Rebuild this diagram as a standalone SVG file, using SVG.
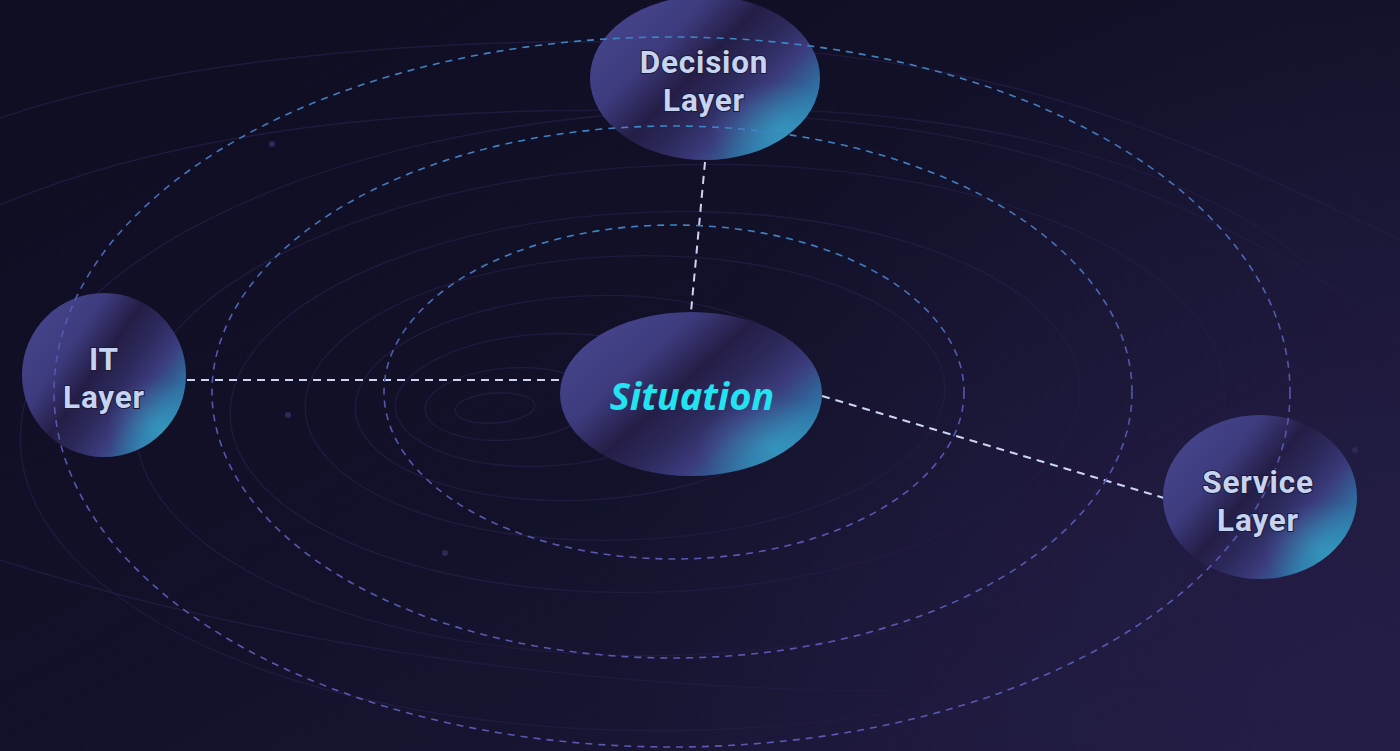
<svg xmlns="http://www.w3.org/2000/svg" width="1400" height="751" viewBox="0 0 1400 751">
<defs>
  <linearGradient id="bg" x1="0" y1="0" x2="1" y2="1">
    <stop offset="0" stop-color="#0e0d21"/>
    <stop offset="0.5" stop-color="#121129"/>
    <stop offset="1" stop-color="#1f1a3e"/>
  </linearGradient>
  <radialGradient id="bgGlow" cx="1350" cy="700" r="750" gradientUnits="userSpaceOnUse">
    <stop offset="0" stop-color="#261f4a" stop-opacity="0.8"/>
    <stop offset="1" stop-color="#261f4a" stop-opacity="0"/>
  </radialGradient>
  <linearGradient id="orbit" x1="0" y1="0" x2="0" y2="1">
    <stop offset="0" stop-color="#3c86c6"/>
    <stop offset="0.45" stop-color="#5257ad"/>
    <stop offset="1" stop-color="#5759b4"/>
  </linearGradient>
  <linearGradient id="node" x1="0" y1="0.15" x2="1" y2="0.85">
    <stop offset="0" stop-color="#47478e"/>
    <stop offset="0.28" stop-color="#3d3b7e"/>
    <stop offset="0.45" stop-color="#241e46"/>
    <stop offset="0.58" stop-color="#2c295b"/>
    <stop offset="0.7" stop-color="#3b3a7b"/>
    <stop offset="0.85" stop-color="#2f6fa2"/>
    <stop offset="1" stop-color="#2f88b3"/>
  </linearGradient>
  <radialGradient id="nodeGlow" cx="0.82" cy="0.82" r="0.3">
    <stop offset="0" stop-color="#3fd0e6" stop-opacity="0.35"/>
    <stop offset="1" stop-color="#3fd0e6" stop-opacity="0"/>
  </radialGradient>
  <style>
    .orbit{fill:none;stroke:url(#orbit);stroke-width:1.6;stroke-dasharray:7 6;}
    .link{fill:none;stroke:#cbd4f2;stroke-width:2;stroke-dasharray:8 6;}
    .swirl{fill:none;stroke:#221c42;stroke-width:1.4;opacity:0.85;}
    .dot{fill:#2a2a58;}
    .body{fill:url(#node);}
    .glow{fill:url(#nodeGlow);}
    .lbl{font-family:Roboto,"Noto Sans","Liberation Sans",sans-serif;font-weight:700;font-size:31.5px;letter-spacing:0.8px;fill:#c6d4f1;text-anchor:middle;paint-order:stroke;stroke:#1b1a3c;stroke-width:2;}
    .sit{font-family:"Noto Sans","Open Sans",sans-serif;font-style:italic;font-size:38px;letter-spacing:0;fill:#22e3ef;stroke:none;}
  </style>
</defs>

<rect width="1400" height="751" fill="url(#bg)"/>
<rect width="1400" height="751" fill="url(#bgGlow)"/>

<g id="background-swirl">
  <ellipse class="swirl" cx="495" cy="408" rx="40" ry="15" transform="rotate(-4 495 408)"/>
  <ellipse class="swirl" cx="510" cy="404" rx="85" ry="36" transform="rotate(-4 510 404)"/>
  <ellipse class="swirl" cx="545" cy="400" rx="150" ry="66" transform="rotate(-3 545 400)"/>
  <ellipse class="swirl" cx="585" cy="398" rx="230" ry="102" transform="rotate(-3 585 398)"/>
  <ellipse class="swirl" cx="625" cy="398" rx="320" ry="142" transform="rotate(-2 625 398)"/>
  <ellipse class="swirl" cx="655" cy="402" rx="425" ry="190" transform="rotate(-2 655 402)"/>
  <ellipse class="swirl" cx="680" cy="410" rx="545" ry="245" transform="rotate(-2 680 410)"/>
  <ellipse class="swirl" cx="700" cy="420" rx="680" ry="310" transform="rotate(-2 700 420)"/>
  <path class="swirl" d="M0 118 C200 50 520 30 760 48 S1150 120 1400 240"/>
  <path class="swirl" d="M0 205 C200 120 480 100 760 115 S1200 200 1400 330"/>
  <path class="swirl" d="M0 560 C250 640 600 700 1000 690 S1300 620 1400 560"/>
  <circle class="dot" cx="272" cy="144" r="3"/>
  <circle class="dot" cx="288" cy="415" r="3"/>
  <circle class="dot" cx="445" cy="553" r="3"/>
  <circle class="dot" cx="1355" cy="450" r="3"/>
</g>

<g id="connectors">
  <line class="link" x1="705" y1="162" x2="691" y2="312"/>
  <line class="link" x1="173" y1="380" x2="559" y2="380"/>
  <line class="link" x1="822" y1="396" x2="1164" y2="498"/>
</g>

<g id="node-situation">
  <ellipse class="body" cx="691" cy="394" rx="131" ry="82"/>
  <ellipse class="glow" cx="691" cy="394" rx="131" ry="82"/>
</g>
<g id="node-decision">
  <ellipse class="body" cx="705" cy="78" rx="115" ry="82"/>
  <ellipse class="glow" cx="705" cy="78" rx="115" ry="82"/>
</g>
<g id="node-it">
  <ellipse class="body" cx="104" cy="375" rx="82" ry="82"/>
  <ellipse class="glow" cx="104" cy="375" rx="82" ry="82"/>
</g>
<g id="node-service">
  <ellipse class="body" cx="1260" cy="497" rx="97" ry="82"/>
  <ellipse class="glow" cx="1260" cy="497" rx="97" ry="82"/>
</g>

<g id="orbits">
  <ellipse class="orbit" cx="674" cy="392" rx="290" ry="167"/>
  <ellipse class="orbit" cx="672" cy="392" rx="460" ry="266"/>
  <ellipse class="orbit" cx="672" cy="392" rx="618" ry="355"/>
</g>

<g id="labels">
  <text class="lbl sit" x="692" y="410">Situation</text>
  <text class="lbl" x="704" y="73">Decision</text>
  <text class="lbl" x="704" y="110.5">Layer</text>
  <text class="lbl" x="104" y="370">IT</text>
  <text class="lbl" x="104" y="407.5">Layer</text>
  <text class="lbl" x="1258" y="493">Service</text>
  <text class="lbl" x="1258" y="530.5">Layer</text>
</g>
</svg>
